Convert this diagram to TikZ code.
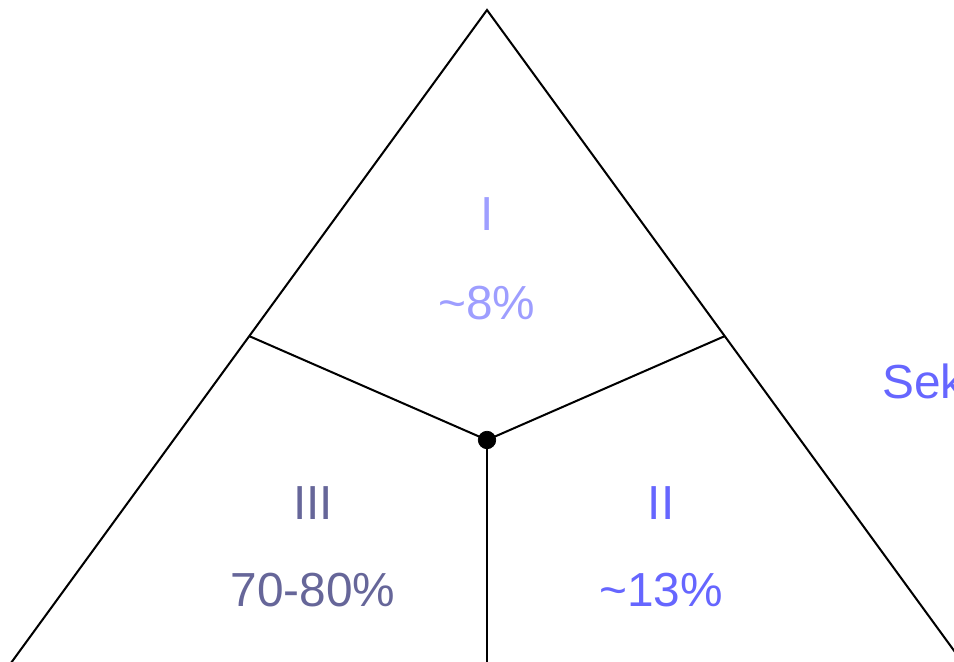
\documentclass[tikz,border=0pt]{standalone}
\usepackage{fontspec}
\setmainfont{Liberation Sans}
\usetikzlibrary{calc}
\definecolor{lightviolet}{RGB}{158,158,255}
\definecolor{midblue}{RGB}{102,102,255}
\definecolor{slate}{RGB}{102,102,153}

\begin{document}
\begin{tikzpicture}[x=0.02cm, y=-0.02cm,
    seg/.style={line width=1.15pt, black},
    lbl/.style={font=\fontsize{27.2}{30}\selectfont, inner sep=0pt}]
  \clip (0,0) rectangle (954,662);
  \useasboundingbox (0,0) rectangle (954,662);

  % outer triangle
  \coordinate (apex) at (487,10);
  \coordinate (lbot) at (-16,700);
  \coordinate (rbot) at (990,700);
  \draw[seg] (lbot) -- (apex) -- (rbot);

  % inner split
  \coordinate (ljoin) at (249,336);
  \coordinate (rjoin) at (725,336);
  \coordinate (mid) at (487,440);
  \coordinate (mbot) at (487,700);
  \draw[seg] (ljoin) -- (mid) -- (rjoin);
  \draw[seg] (mid) -- (mbot);
  \filldraw[black] (mid) circle (0.175cm);

  % labels
  \node[lbl, lightviolet] (roma) at (487,214) {I};
  \node[lbl, lightviolet] (pcta) at (487,303) {\textasciitilde8\%};
  \node[lbl, slate] (romc) at (313,503) {III};
  \node[lbl, slate] (pctc) at (313,590) {70-80\%};
  \node[lbl, midblue] (romb) at (661,503) {II};
  \node[lbl, midblue] (pctb) at (661,590) {\textasciitilde13\%};
  \node[lbl, midblue, anchor=west] (sek) at (882,381) {Sek};
\end{tikzpicture}
\end{document}
